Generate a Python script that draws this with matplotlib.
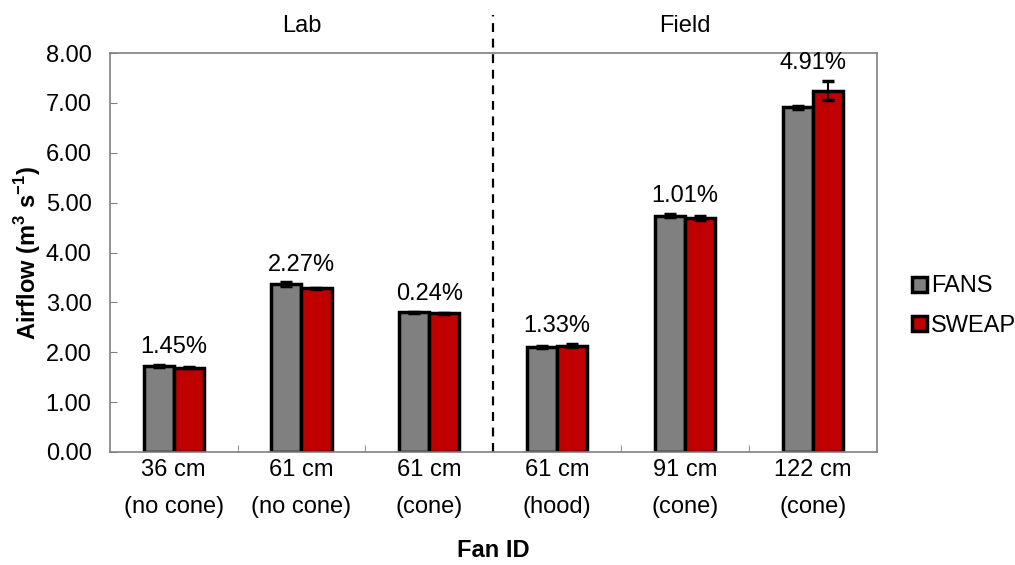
import numpy as np
import matplotlib.pyplot as plt

plt.rcParams['font.family'] = ['Liberation Sans', 'DejaVu Sans']
plt.rcParams['mathtext.fontset'] = 'custom'
plt.rcParams['mathtext.rm'] = 'Liberation Sans'
plt.rcParams['mathtext.bf'] = 'Liberation Sans:bold'

fan_ids = ['36 cm\n(no cone)', '61 cm\n(no cone)', '61 cm\n(cone)',
           '61 cm\n(hood)', '91 cm\n(cone)', '122 cm\n(cone)']
fans = [1.72, 3.36, 2.80, 2.11, 4.74, 6.91]
sweap = [1.69, 3.28, 2.78, 2.13, 4.70, 7.25]
fans_err = [0.02, 0.04, 0.01, 0.02, 0.03, 0.03]
sweap_err = [0.01, 0.01, 0.01, 0.03, 0.04, 0.19]
diff_labels = ['1.45%', '2.27%', '0.24%', '1.33%', '1.01%', '4.91%']
groups = ['Lab', 'Field']


def main():
    fig = plt.figure(figsize=(10.15, 5.65), dpi=100)
    ax = fig.add_axes([0.108, 0.2, 0.756, 0.706])

    x = np.arange(len(fan_ids))
    w = 0.235
    ekw = dict(ecolor='black', elinewidth=1.5, capsize=4, capthick=2.5)
    ax.bar(x - w / 2, fans, w, yerr=fans_err, color='#808080',
           edgecolor='black', linewidth=2.5, label='FANS', error_kw=ekw, zorder=2)
    ax.bar(x + w / 2, sweap, w, yerr=sweap_err, color='#C00000',
           edgecolor='black', linewidth=2.5, label='SWEAP', error_kw=ekw, zorder=2)

    for i, lab in enumerate(diff_labels):
        top = max(fans[i] + fans_err[i], sweap[i] + sweap_err[i])
        ax.annotate(lab, (x[i], top), xytext=(0, 5), textcoords='offset points',
                    ha='center', va='bottom', fontsize=17)

    # divider between lab and field, runs up past the frame
    ax.axvline(2.5, ymin=0, ymax=1.095, color='black', linestyle=(0, (4, 3)),
               linewidth=1.6, clip_on=False)
    ax.text(1, 8.55, groups[0], ha='center', va='center', fontsize=17)
    ax.text(4, 8.55, groups[1], ha='center', va='center', fontsize=17)

    ax.set_xlim(-0.5, len(fan_ids) - 0.5)
    ax.set_ylim(0, 8)
    ax.set_yticks(np.arange(0, 8.01, 1))
    ax.set_yticklabels([f'{v:.2f}' for v in np.arange(0, 8.01, 1)], fontsize=17)
    ax.set_xticks(x)
    ax.set_xticklabels(fan_ids, fontsize=17, linespacing=1.9)
    ax.set_xticks(np.arange(0.5, len(fan_ids) - 1, 1), minor=True)
    ax.tick_params(axis='x', which='major', length=0, pad=5)
    ax.tick_params(axis='x', which='minor', direction='in', length=5, color='#808080')
    ax.tick_params(axis='y', direction='in', length=5, color='#808080', pad=13)
    for s in ax.spines.values():
        s.set_color('#808080')
        s.set_linewidth(1.2)

    ax.set_ylabel(r'Airflow (m$^\mathbf{3}$ s$^\mathbf{-1}$)', fontsize=17,
                  fontweight='bold', labelpad=2)
    ax.set_xlabel('Fan ID', fontsize=17, fontweight='bold', labelpad=15)

    fig.legend(loc='center left', bbox_to_anchor=(0.878, 0.458), frameon=False,
               fontsize=17, handlelength=0.6, handleheight=0.6, handletextpad=0.2,
               labelspacing=0.75)

    fig.savefig('out.png', dpi=100)


if __name__ == '__main__':
    main()
